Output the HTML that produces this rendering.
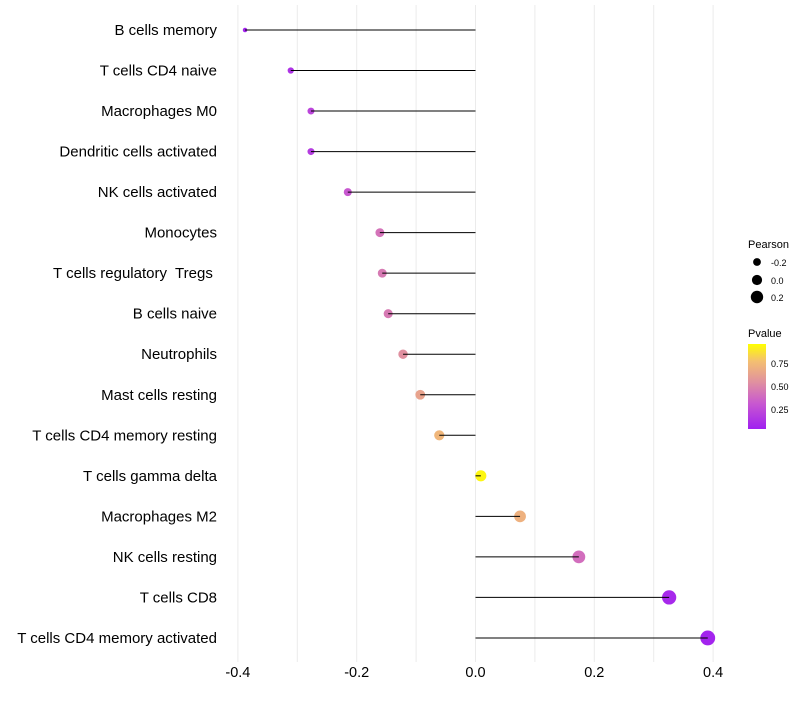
<!DOCTYPE html>
<html><head><meta charset="utf-8"><style>
body{margin:0;background:#fff;font-family:"Liberation Sans",sans-serif}
text{white-space:pre}
</style></head><body>
<svg id="chart" width="800" height="700" xmlns="http://www.w3.org/2000/svg">
<defs><linearGradient id="pg" x1="0" y1="1" x2="0" y2="0">
<stop offset="0" stop-color="#a020f0"/><stop offset="0.3" stop-color="#c858d0"/><stop offset="0.55" stop-color="#e090a0"/><stop offset="0.8" stop-color="#f4c070"/><stop offset="1" stop-color="#ffff00"/></linearGradient></defs>
<g id="grid"></g>
<g id="marks"></g>
<g id="legend">
<text x="748" y="248" font-size="11">Pearson</text>
<circle cx="757" cy="262" r="3.9" fill="#000"/>
<text x="771" y="266" font-size="9">-0.2</text>
<circle cx="757" cy="280" r="5.1" fill="#000"/>
<text x="771" y="284" font-size="9">0.0</text>
<circle cx="757" cy="297" r="6.2" fill="#000"/>
<text x="771" y="301" font-size="9">0.2</text>
<text x="748" y="337" font-size="11">Pvalue</text>
<rect x="748" y="344" width="18" height="85" fill="url(#pg)"/>
<text x="771" y="367" font-size="9">0.75</text>
<text x="771" y="390" font-size="9">0.50</text>
<text x="771" y="413" font-size="9">0.25</text>
</g>
</svg>
<script>
const categories=["B cells memory","T cells CD4 naive","Macrophages M0","Dendritic cells activated","NK cells activated","Monocytes","T cells regulatory  Tregs ","B cells naive","Neutrophils","Mast cells resting","T cells CD4 memory resting","T cells gamma delta","Macrophages M2","NK cells resting","T cells CD8","T cells CD4 memory activated"];
const pearson=[-0.388,-0.311,-0.277,-0.277,-0.215,-0.161,-0.157,-0.147,-0.122,-0.093,-0.061,0.009,0.075,0.174,0.326,0.391];
const pvalues=[0.02,0.1,0.2,0.15,0.3,0.42,0.45,0.45,0.55,0.65,0.75,0.97,0.72,0.4,0.05,0.02];
const xTicks=[-0.4,-0.2,0,0.2,0.4];
const xTickLabels=["-0.4","-0.2","0.0","0.2","0.4"];
const NS="http://www.w3.org/2000/svg";
const x=v=>475.5+v*594;
const y=i=>30+i*40.53;
const rad=p=>Math.sqrt(5+(p+0.388)/0.779*50);
const stops=[[0,[160,32,240]],[0.3,[200,88,208]],[0.55,[224,144,160]],[0.8,[244,192,112]],[1,[255,255,0]]];
function col(p){for(let k=1;k<stops.length;k++){if(p<=stops[k][0]){const a=stops[k-1],b=stops[k],t=(p-a[0])/(b[0]-a[0]);return"rgb("+a[1].map((c,j)=>Math.round(c+(b[1][j]-c)*t)).join(",")+")";}}return"rgb(255,255,0)";}
function mk(t,a,parent){const e=document.createElementNS(NS,t);for(const k in a)e.setAttribute(k,a[k]);parent.appendChild(e);return e;}
const grid=document.getElementById('grid'),marks=document.getElementById('marks');
for(let v=-0.4;v<=0.401;v+=0.1){const l=mk('line',{x1:x(v),x2:x(v),y1:5,y2:662,stroke:'#ebebeb','stroke-width':1},grid);

}
xTicks.forEach((v,i)=>{const t=mk('text',{x:x(v),y:677,'font-size':14.5,'text-anchor':'middle',fill:'#000'},grid);t.textContent=xTickLabels[i];

});
categories.forEach((c,i)=>{
const t=mk('text',{x:217,y:y(i)+5,'font-size':15,'text-anchor':'end',fill:'#000'},marks);t.textContent=c;


const d=mk('circle',{cx:x(pearson[i]),cy:y(i),r:rad(pearson[i]),fill:col(pvalues[i])},marks);


const l=mk('line',{x1:x(0),x2:x(pearson[i]),y1:y(i),y2:y(i),stroke:'#000','stroke-width':1},marks);


});
</script>
</body></html>
